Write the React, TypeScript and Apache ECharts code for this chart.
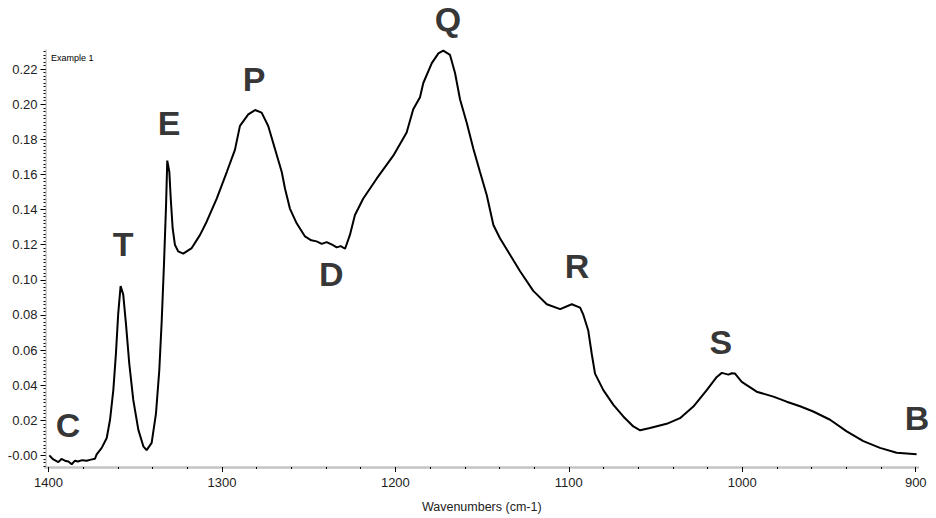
import { useEffect, useRef } from "react";
import * as echarts from "echarts";

const wavenumbers = [
  1399.5, 1397.2, 1394.3, 1392.5, 1390.5, 1388.5, 1386.6, 1384.7, 1383.0, 1380.5,
  1378.0, 1375.5, 1373.2, 1372.2, 1369.3, 1366.4, 1364.5, 1362.6, 1361.1, 1359.8,
  1358.4, 1356.9, 1355.3, 1353.4, 1351.1, 1348.2, 1345.3, 1343.4, 1340.5, 1338.0,
  1336.1, 1334.7, 1333.4, 1332.2, 1331.5, 1330.3, 1329.5, 1328.4, 1327.1, 1325.2,
  1322.3, 1317.4, 1312.6, 1308.8, 1303.0, 1297.2, 1292.5, 1289.6, 1284.8, 1280.9,
  1277.1, 1273.3, 1269.4, 1265.5, 1263.6, 1260.8, 1256.9, 1252.1, 1248.5, 1245.4,
  1242.5, 1239.6, 1236.5, 1233.8, 1231.5, 1229.0, 1226.2, 1223.3, 1218.5, 1210.8,
  1201.2, 1193.5, 1189.7, 1185.8, 1183.9, 1179.0, 1175.2, 1172.4, 1168.5, 1165.6,
  1162.7, 1158.9, 1155.0, 1151.2, 1147.3, 1143.5, 1139.7, 1133.9, 1128.1, 1120.5,
  1112.7, 1105.0, 1098.3, 1093.5, 1091.6, 1088.8, 1086.8, 1084.9, 1080.1, 1074.3,
  1068.6, 1062.8, 1058.9, 1053.2, 1043.6, 1035.9, 1028.2, 1020.5, 1014.7, 1011.8,
  1008.0, 1006.0, 1004.2, 1000.3, 991.7, 982.1, 974.4, 966.7, 959.1, 949.4,
  939.8, 930.2, 920.6, 911.0, 899.5,
];

const absorbance = [
  0.0, -0.0023, -0.0038, -0.002, -0.003, -0.0035, -0.005, -0.003, -0.0035, -0.0027,
  -0.003, -0.0024, -0.0019, 0.0006, 0.0043, 0.0099, 0.0203, 0.0372, 0.0579, 0.0805,
  0.0965, 0.0917, 0.0748, 0.0522, 0.0316, 0.0147, 0.0052, 0.003, 0.0071, 0.024,
  0.0485, 0.0767, 0.1087, 0.1425, 0.1679, 0.1614, 0.1463, 0.1294, 0.12, 0.1162,
  0.1149, 0.1181, 0.1256, 0.1331, 0.1463, 0.1614, 0.174, 0.1877, 0.1942, 0.1967,
  0.1952, 0.1876, 0.1745, 0.1614, 0.1519, 0.1406, 0.1322, 0.1247, 0.1225, 0.1219,
  0.1205, 0.1215, 0.12, 0.1185, 0.1192, 0.1177, 0.1256, 0.1369, 0.1463, 0.1576,
  0.1707, 0.1839, 0.1971, 0.204, 0.2121, 0.2234, 0.229, 0.2305, 0.2281, 0.2178,
  0.2027, 0.1896, 0.1745, 0.1614, 0.1482, 0.1312, 0.1237, 0.1143, 0.1049, 0.0937,
  0.0861, 0.0833, 0.0861, 0.0842, 0.08, 0.0711, 0.0579, 0.0466, 0.0372, 0.0288,
  0.0222, 0.0165, 0.0143, 0.0156, 0.018, 0.0212, 0.0278, 0.0372, 0.0447, 0.047,
  0.046, 0.0468, 0.0466, 0.0419, 0.0363, 0.0335, 0.0306, 0.028, 0.025, 0.0203,
  0.0137, 0.0081, 0.0043, 0.0015, 0.0006,
];

const xTickValues = [1400, 1300, 1200, 1100, 1000, 900];
const yTickValues = [0, 0.02, 0.04, 0.06, 0.08, 0.1, 0.12, 0.14, 0.16, 0.18, 0.2, 0.22];

const peakLetters = ["C", "T", "E", "P", "D", "Q", "R", "S", "B"];
const peakLetterWavenumbers = [1388.7, 1356.9, 1330.5, 1281.5, 1236.9, 1169.7, 1095.3, 1012.4, 899.3];
const peakLetterAbsorbance = [0.0171, 0.1205, 0.1892, 0.2143, 0.1036, 0.2487, 0.1078, 0.0645, 0.0214];

const sampleName = "Example 1";
const xAxisTitle = "Wavenumbers (cm-1)";

const FONT = "'Liberation Sans', Arial, Helvetica, sans-serif";

export default function App() {
  const ref = useRef<HTMLDivElement>(null);

  useEffect(() => {
    if (!ref.current) return;
    const chart = echarts.init(ref.current, null, { renderer: "svg" });

    const xMinor: number[] = [];
    for (let w = 900; w <= 1400; w += 20) xMinor.push(w);
    const yMinor: number[] = [];
    for (let i = -3; i <= 115; i++) yMinor.push(Number((i * 0.002).toFixed(3)));

    const xMin = 898.7;
    const xMax = 1401.7;
    const yMin = -0.0066;
    const yMax = 0.2309;

    chart.setOption({
      animation: false,
      backgroundColor: "#ffffff",
      grid: { left: 45.5, right: 18, top: 50, bottom: 47, containLabel: false },
      xAxis: [
        {
          type: "value",
          inverse: true,
          min: xMin,
          max: xMax,
          position: "bottom",
          axisLine: { show: true, onZero: false, lineStyle: { color: "#c4c4c4", width: 2.5 } },
          axisTick: { show: true, customValues: xTickValues, length: 5, lineStyle: { color: "#000", width: 1 } },
          axisLabel: {
            show: true,
            customValues: xTickValues,
            margin: 9,
            color: "#222",
            fontSize: 13,
            fontFamily: FONT,
            formatter: (v: number) => String(Math.round(v)),
          },
          splitLine: { show: false },
          name: xAxisTitle,
          nameLocation: "middle",
          nameGap: 33,
          nameTextStyle: { color: "#222", fontSize: 12.5, fontFamily: FONT },
        },
        {
          type: "value",
          inverse: true,
          min: xMin,
          max: xMax,
          position: "bottom",
          axisLine: { show: false, onZero: false },
          axisTick: { show: true, customValues: xMinor, length: 2, lineStyle: { color: "#000", width: 1 } },
          axisLabel: { show: false },
          splitLine: { show: false },
        },
      ],
      yAxis: [
        {
          type: "value",
          min: yMin,
          max: yMax,
          position: "left",
          axisLine: { show: true, onZero: false, lineStyle: { color: "#c4c4c4", width: 1.5 } },
          axisTick: { show: true, customValues: yTickValues, length: 5, lineStyle: { color: "#000", width: 1 } },
          axisLabel: {
            show: true,
            customValues: yTickValues,
            margin: 8,
            color: "#222",
            fontSize: 13,
            fontFamily: FONT,
            formatter: (v: number) => (Math.abs(v) < 1e-9 ? "-0.00" : v.toFixed(2)),
          },
          splitLine: { show: false },
        },
        {
          type: "value",
          min: yMin,
          max: yMax,
          position: "left",
          axisLine: { show: false, onZero: false },
          axisTick: { show: true, customValues: yMinor, length: 2, lineStyle: { color: "#000", width: 1 } },
          axisLabel: { show: false },
          splitLine: { show: false },
        },
      ],
      graphic: [
        {
          type: "text",
          left: 51,
          top: 53,
          style: { text: sampleName, font: `9px ${FONT}`, fill: "#000" },
        },
      ],
      series: [
        {
          type: "line",
          xAxisIndex: 0,
          yAxisIndex: 0,
          data: wavenumbers.map((w, i) => [w, absorbance[i]]),
          showSymbol: false,
          symbol: "none",
          smooth: false,
          lineStyle: { color: "#000", width: 2 },
          silent: true,
        },
        {
          type: "scatter",
          xAxisIndex: 0,
          yAxisIndex: 0,
          clip: false,
          symbolSize: 1,
          itemStyle: { color: "transparent" },
          silent: true,
          data: peakLetters.map((name, i) => ({
            name,
            value: [peakLetterWavenumbers[i], peakLetterAbsorbance[i]],
          })),
          label: {
            show: true,
            position: "inside",
            formatter: "{b}",
            color: "#000",
            fontSize: 34,
            lineHeight: 26,
            fontWeight: "bold",
            fontFamily: FONT,
            align: "center",
            verticalAlign: "middle",
            textBorderWidth: 0,
          },
        },
      ],
    });

    return () => {
      chart.dispose();
    };
  }, []);

  return (
    <div
      ref={ref}
      style={{ position: "fixed", left: 0, top: 0, width: 936, height: 518, background: "#fff" }}
    />
  );
}
